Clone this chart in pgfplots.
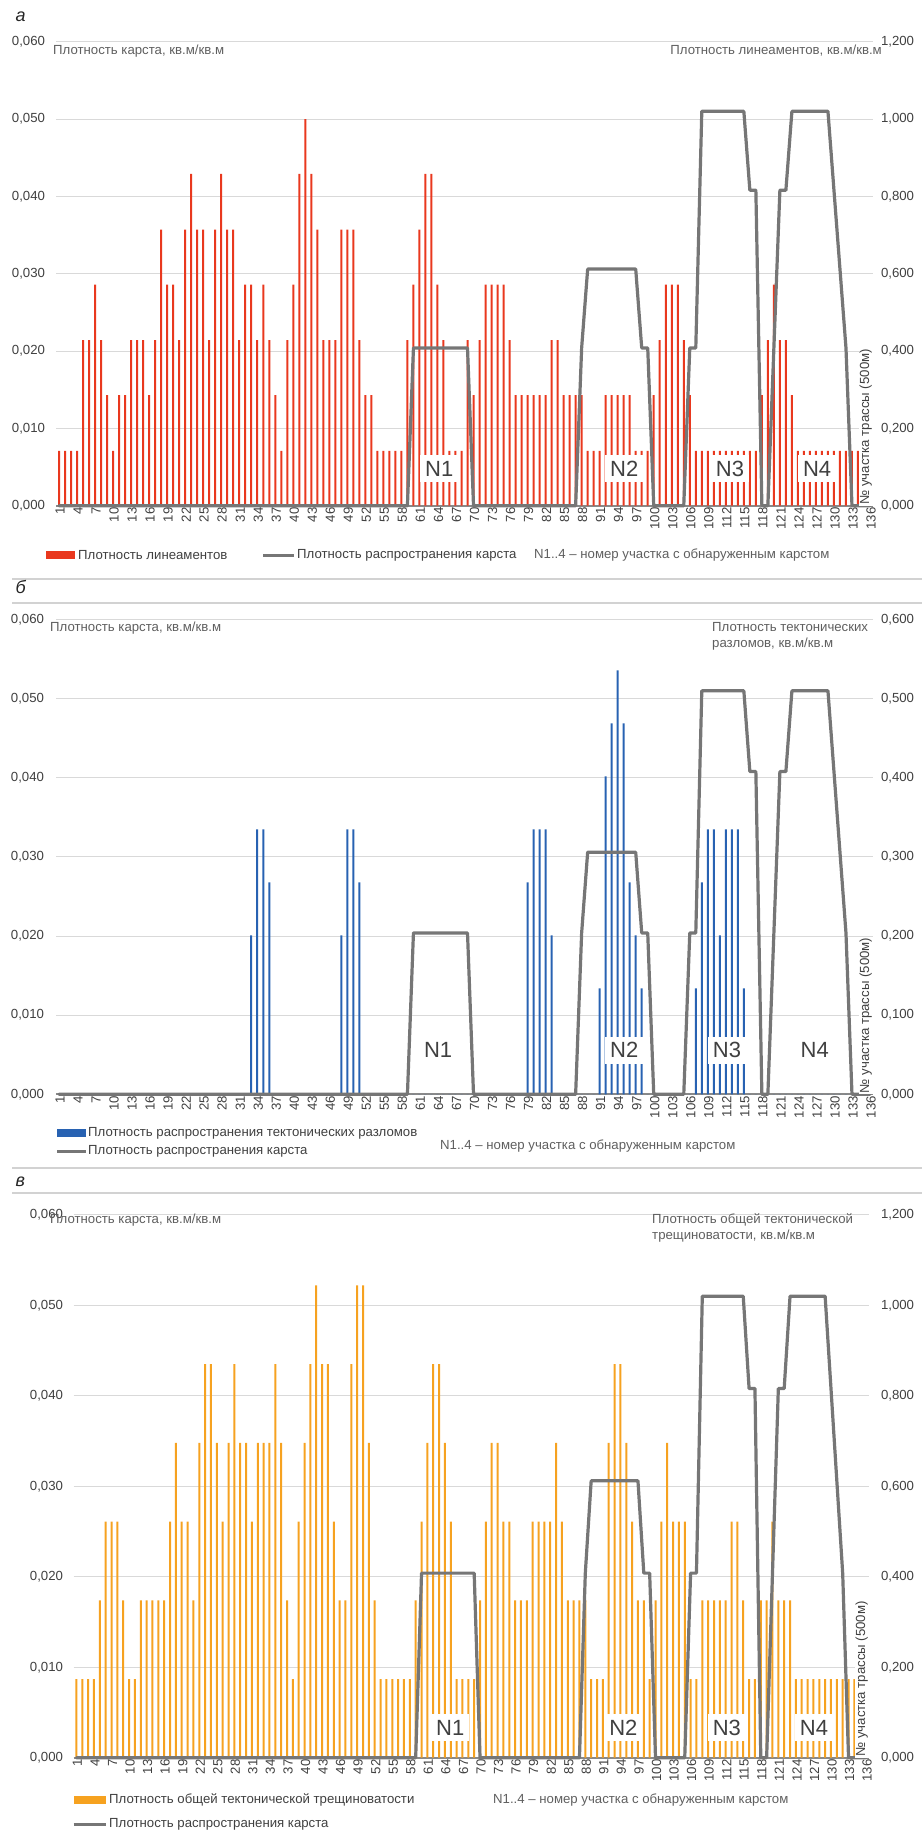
\documentclass[border=0pt]{standalone}
\usepackage{fontspec}
\setmainfont{Liberation Sans}
\usepackage{pgfplots}
\usepackage{pgfplotstable}
\pgfplotsset{compat=1.18}

\definecolor{linred}{RGB}{233,56,30}
\definecolor{fltblue}{RGB}{40,98,178}
\definecolor{frcorange}{RGB}{246,162,32}
\definecolor{karstgray}{RGB}{118,118,118}
\definecolor{gridgray}{RGB}{217,217,217}
\definecolor{axisgray}{RGB}{137,137,137}
\definecolor{sepgray}{RGB}{210,210,210}
\definecolor{txt}{RGB}{64,64,64}
\definecolor{txtlight}{RGB}{95,95,95}

% n: section number; lin: lineament density; flt: tectonic fault density;
% frc: general tectonic fracturing density; krs: karst density
\pgfplotstableread{
n lin flt frc krs
1 0.0071 0 0.0087 0
2 0.0071 0 0.0087 0
3 0.0071 0 0.0087 0
4 0.0071 0 0.0087 0
5 0.0214 0 0.0174 0
6 0.0214 0 0.0261 0
7 0.0286 0 0.0261 0
8 0.0214 0 0.0261 0
9 0.0143 0 0.0174 0
10 0.0071 0 0.0087 0
11 0.0143 0 0.0087 0
12 0.0143 0 0.0174 0
13 0.0214 0 0.0174 0
14 0.0214 0 0.0174 0
15 0.0214 0 0.0174 0
16 0.0143 0 0.0174 0
17 0.0214 0 0.0261 0
18 0.0357 0 0.0348 0
19 0.0286 0 0.0261 0
20 0.0286 0 0.0261 0
21 0.0214 0 0.0174 0
22 0.0357 0 0.0348 0
23 0.0429 0 0.0435 0
24 0.0357 0 0.0435 0
25 0.0357 0 0.0348 0
26 0.0214 0 0.0261 0
27 0.0357 0 0.0348 0
28 0.0429 0 0.0435 0
29 0.0357 0 0.0348 0
30 0.0357 0 0.0348 0
31 0.0214 0 0.0261 0
32 0.0286 0 0.0348 0
33 0.0286 0.0201 0.0348 0
34 0.0214 0.0335 0.0348 0
35 0.0286 0.0335 0.0435 0
36 0.0214 0.0268 0.0348 0
37 0.0143 0 0.0174 0
38 0.0071 0 0.0087 0
39 0.0214 0 0.0261 0
40 0.0286 0 0.0348 0
41 0.0429 0 0.0435 0
42 0.0500 0 0.0522 0
43 0.0429 0 0.0435 0
44 0.0357 0 0.0435 0
45 0.0214 0 0.0261 0
46 0.0214 0 0.0174 0
47 0.0214 0 0.0174 0
48 0.0357 0.0201 0.0435 0
49 0.0357 0.0335 0.0522 0
50 0.0357 0.0335 0.0522 0
51 0.0214 0.0268 0.0348 0
52 0.0143 0 0.0174 0
53 0.0143 0 0.0087 0
54 0.0071 0 0.0087 0
55 0.0071 0 0.0087 0
56 0.0071 0 0.0087 0
57 0.0071 0 0.0087 0
58 0.0071 0 0.0087 0
59 0.0214 0 0.0174 0
60 0.0286 0 0.0261 0.0204
61 0.0357 0 0.0348 0.0204
62 0.0429 0 0.0435 0.0204
63 0.0429 0 0.0435 0.0204
64 0.0286 0 0.0348 0.0204
65 0.0214 0 0.0261 0.0204
66 0.0071 0 0.0087 0.0204
67 0.0071 0 0.0087 0.0204
68 0.0071 0 0.0087 0.0204
69 0.0214 0 0.0087 0.0204
70 0.0143 0 0.0174 0
71 0.0214 0 0.0261 0
72 0.0286 0 0.0348 0
73 0.0286 0 0.0348 0
74 0.0286 0 0.0261 0
75 0.0286 0 0.0261 0
76 0.0214 0 0.0174 0
77 0.0143 0 0.0174 0
78 0.0143 0 0.0174 0
79 0.0143 0.0268 0.0261 0
80 0.0143 0.0335 0.0261 0
81 0.0143 0.0335 0.0261 0
82 0.0143 0.0335 0.0261 0
83 0.0214 0.0201 0.0348 0
84 0.0214 0 0.0261 0
85 0.0143 0 0.0174 0
86 0.0143 0 0.0174 0
87 0.0143 0 0.0174 0
88 0.0143 0 0.0174 0.0204
89 0.0071 0 0.0087 0.0306
90 0.0071 0 0.0087 0.0306
91 0.0071 0.0134 0.0087 0.0306
92 0.0143 0.0402 0.0348 0.0306
93 0.0143 0.0469 0.0435 0.0306
94 0.0143 0.0536 0.0435 0.0306
95 0.0143 0.0469 0.0348 0.0306
96 0.0143 0.0268 0.0261 0.0306
97 0.0071 0.0201 0.0174 0.0306
98 0.0071 0.0134 0.0174 0.0204
99 0.0071 0 0.0087 0.0204
100 0.0143 0 0.0174 0
101 0.0214 0 0.0261 0
102 0.0286 0 0.0348 0
103 0.0286 0 0.0261 0
104 0.0286 0 0.0261 0
105 0.0214 0 0.0261 0
106 0.0143 0 0.0087 0.0204
107 0.0071 0.0134 0.0087 0.0204
108 0.0071 0.0268 0.0174 0.0510
109 0.0071 0.0335 0.0174 0.0510
110 0.0071 0.0335 0.0174 0.0510
111 0.0071 0.0201 0.0174 0.0510
112 0.0071 0.0335 0.0174 0.0510
113 0.0071 0.0335 0.0261 0.0510
114 0.0071 0.0335 0.0261 0.0510
115 0.0071 0.0134 0.0174 0.0510
116 0.0071 0 0.0087 0.0408
117 0.0071 0 0.0087 0.0408
118 0.0143 0 0.0174 0
119 0.0214 0 0.0174 0
120 0.0286 0 0.0261 0.0204
121 0.0214 0 0.0174 0.0408
122 0.0214 0 0.0174 0.0408
123 0.0143 0 0.0174 0.0510
124 0.0071 0 0.0087 0.0510
125 0.0071 0 0.0087 0.0510
126 0.0071 0 0.0087 0.0510
127 0.0071 0 0.0087 0.0510
128 0.0071 0 0.0087 0.0510
129 0.0071 0 0.0087 0.0510
130 0.0071 0 0.0087 0.0408
131 0.0071 0 0.0087 0.0306
132 0.0071 0 0.0087 0.0204
133 0.0071 0 0.0087 0
134 0.0071 0 0.0087 0
135 0.0071 0 0.0087 0
136 0.0071 0 0.0087 0
}\route

\newcommand{\tfont}{\fontsize{13.2}{15.8}\selectfont}
\newcommand{\nfont}{\fontsize{22}{24}\selectfont}
\newcommand{\letterfont}{\fontsize{18}{20}\selectfont\itshape}

\tikzset{
  nlab/.style={fill=white, text=txt, font=\nfont, minimum width=38pt, minimum height=27pt, inner sep=0pt},
  trasslab/.style={rotate=90, anchor=south west, fill=white, inner sep=1pt, font=\tfont, text=txt},
}

\pgfplotsset{
  commafmt/.style={
    /pgf/number format/fixed,
    /pgf/number format/fixed zerofill,
    /pgf/number format/precision=3,
    /pgf/number format/use comma,
  },
  panel/.style={
    scale only axis, xmin=0.5, xmax=136.5, ymin=0, ymax=0.06, clip=false,
    scaled y ticks=false,
    axis x line*=bottom, axis y line*=left,
    every outer x axis line/.append style={-},
    x axis line style={draw=axisgray, line width=1.8pt, -},
    y axis line style={draw=none},
    major tick length=0pt, tick style={draw=none},
    ymajorgrids, grid style={draw=gridgray, line width=1pt},
    xtick={1,4,...,136},
    ytick={0,0.01,0.02,0.03,0.04,0.05,0.06},
    /pgf/number format/assume math mode=true,
    tick label style={font=\tfont, text=txt},
    xticklabel style={rotate=90, anchor=east, inner sep=1.5pt, yshift=-1pt},
    yticklabel style={anchor=east, commafmt},
  },
  rightax/.style={
    scale only axis, xmin=0.5, xmax=136.5, ymin=0,
    scaled y ticks=false,
    axis x line=none, axis y line*=right,
    y axis line style={draw=none},
    major tick length=0pt, tick style={draw=none},
    /pgf/number format/assume math mode=true,
    tick label style={font=\tfont, text=txt},
    yticklabel style={anchor=west, commafmt},
  },
  karst/.style={sharp plot, draw=karstgray, line width=3.2pt, line join=round, line cap=round},
}

\begin{document}
\begin{tikzpicture}
\path[use as bounding box] (0,0) rectangle (922pt,-1832pt);

% ---------------- panel a: lineaments ----------------
\node[anchor=base west, font=\letterfont, text=black!85] at (12pt,-21.7pt) {а};
\begin{axis}[panel, at={(56pt,-505.7pt)}, anchor=south west, width=817pt, height=464pt,
  yticklabel style={xshift=-7.5pt}]
  \addplot[ybar, bar width=2pt, bar shift=0pt, fill=linred, draw=none] table[x=n, y=lin] {\route};
  \addplot[karst] table[x=n, y=krs] {\route};
  \node[nlab] at (axis cs:64.3,0.0048) {N1};
  \node[nlab] at (axis cs:95.1,0.0048) {N2};
  \node[nlab] at (axis cs:112.7,0.0048) {N3};
  \node[nlab] at (axis cs:127.2,0.0048) {N4};
  \node[trasslab] at (axis cs:136.5,0) {№ участка трассы (500м)};
\end{axis}
\begin{axis}[rightax, at={(56pt,-505.7pt)}, anchor=south west, width=817pt, height=464pt,
  ymax=1.2, ytick={0,0.2,0.4,0.6,0.8,1.0,1.2}, yticklabel style={xshift=4.5pt}]
  \addplot[draw=none] coordinates {(1,0)};
\end{axis}
\node[anchor=west, font=\tfont, text=txtlight, inner sep=0pt] at (53pt,-51pt) {Плотность карста, кв.м/кв.м};
\node[anchor=east, font=\tfont, text=txtlight, inner sep=0pt] at (882pt,-51pt) {Плотность линеаментов, кв.м/кв.м};
% legend a
\fill[linred] (46pt,-551pt) rectangle (75pt,-559pt);
\node[anchor=west, font=\tfont, text=txt, inner sep=0pt] at (78pt,-555pt) {Плотность линеаментов};
\draw[karstgray, line width=3pt] (263pt,-555pt) -- (294pt,-555pt);
\node[anchor=west, font=\tfont, text=txt, inner sep=0pt] at (297pt,-555pt) {Плотность распространения карста};
\node[anchor=west, font=\tfont, text=txtlight, inner sep=0pt] at (534pt,-555pt) {N1..4 – номер участка с обнаруженным карстом};

% ---------------- panel b: tectonic faults ----------------
\draw[sepgray, line width=1.2pt] (12pt,-579pt) -- (922pt,-579pt);
\node[anchor=base west, font=\letterfont, text=black!85] at (12pt,-593.3pt) {б};
\draw[sepgray, line width=1.2pt] (12pt,-603pt) -- (922pt,-603pt);
\begin{axis}[panel, at={(56pt,-1094.3pt)}, anchor=south west, width=817pt, height=474.7pt,
  yticklabel style={xshift=-8.5pt}]
  \addplot[ybar, bar width=2pt, bar shift=0pt, fill=fltblue, draw=none] table[x=n, y=flt] {\route};
  \addplot[karst] table[x=n, y=krs] {\route};
  \node[nlab] at (axis cs:64.1,0.0056) {N1};
  \node[nlab] at (axis cs:95.1,0.0056) {N2};
  \node[nlab] at (axis cs:112.2,0.0056) {N3};
  \node[nlab] at (axis cs:126.8,0.0056) {N4};
  \node[trasslab] at (axis cs:136.5,0) {№ участка трассы (500м)};
\end{axis}
\begin{axis}[rightax, at={(56pt,-1094.3pt)}, anchor=south west, width=817pt, height=474.7pt,
  ymax=0.6, ytick={0,0.1,0.2,0.3,0.4,0.5,0.6}, yticklabel style={xshift=4.5pt}]
  \addplot[draw=none] coordinates {(1,0)};
\end{axis}
\node[anchor=west, font=\tfont, text=txtlight, inner sep=0pt] at (50pt,-628pt) {Плотность карста, кв.м/кв.м};
\node[anchor=west, font=\tfont, text=txtlight, inner sep=0pt] at (712pt,-627pt) {Плотность тектонических};
\node[anchor=west, font=\tfont, text=txtlight, inner sep=0pt] at (712pt,-644pt) {разломов, кв.м/кв.м};
% legend b
\fill[fltblue] (57pt,-1129pt) rectangle (86pt,-1137pt);
\node[anchor=west, font=\tfont, text=txt, inner sep=0pt] at (88pt,-1133pt) {Плотность распространения тектонических разломов};
\draw[karstgray, line width=3pt] (57pt,-1151pt) -- (86pt,-1151pt);
\node[anchor=west, font=\tfont, text=txt, inner sep=0pt] at (88pt,-1151pt) {Плотность распространения карста};
\node[anchor=west, font=\tfont, text=txtlight, inner sep=0pt] at (440pt,-1146pt) {N1..4 – номер участка с обнаруженным карстом};

% ---------------- panel c: general tectonic fracturing ----------------
\draw[sepgray, line width=1.2pt] (12pt,-1168pt) -- (922pt,-1168pt);
\node[anchor=base west, font=\letterfont, text=black!85] at (12pt,-1186pt) {в};
\draw[sepgray, line width=1.2pt] (12pt,-1193pt) -- (922pt,-1193pt);
\begin{axis}[panel, at={(73.5pt,-1757.7pt)}, anchor=south west, width=795.5pt, height=542.9pt,
  yticklabel style={xshift=-7pt}]
  \addplot[ybar, bar width=2pt, bar shift=0pt, fill=frcorange, draw=none] table[x=n, y=frc] {\route};
  \addplot[karst] table[x=n, y=krs] {\route};
  \node[nlab] at (axis cs:64.9,0.0033) {N1};
  \node[nlab] at (axis cs:94.5,0.0033) {N2};
  \node[nlab] at (axis cs:112.2,0.0033) {N3};
  \node[nlab] at (axis cs:127.1,0.0033) {N4};
  \node[trasslab] at (axis cs:136.5,0) {№ участка трассы (500м)};
\end{axis}
\begin{axis}[rightax, at={(73.5pt,-1757.7pt)}, anchor=south west, width=795.5pt, height=542.9pt,
  ymax=1.2, ytick={0,0.2,0.4,0.6,0.8,1.0,1.2}, yticklabel style={xshift=8.5pt}]
  \addplot[draw=none] coordinates {(1,0)};
\end{axis}
\node[anchor=west, font=\tfont, text=txtlight, inner sep=0pt] at (50pt,-1220pt) {Плотность карста, кв.м/кв.м};
\node[anchor=west, font=\tfont, text=txtlight, inner sep=0pt] at (652pt,-1220pt) {Плотность общей тектонической};
\node[anchor=west, font=\tfont, text=txtlight, inner sep=0pt] at (652pt,-1236pt) {трещиноватости, кв.м/кв.м};
% legend c
\fill[frcorange] (73.5pt,-1796pt) rectangle (106pt,-1804pt);
\node[anchor=west, font=\tfont, text=txt, inner sep=0pt] at (109pt,-1800pt) {Плотность общей тектонической трещиноватости};
\draw[karstgray, line width=3pt] (73.5pt,-1824pt) -- (106pt,-1824pt);
\node[anchor=west, font=\tfont, text=txt, inner sep=0pt] at (109pt,-1824pt) {Плотность распространения карста};
\node[anchor=west, font=\tfont, text=txtlight, inner sep=0pt] at (493pt,-1800pt) {N1..4 – номер участка с обнаруженным карстом};
\end{tikzpicture}
\end{document}
